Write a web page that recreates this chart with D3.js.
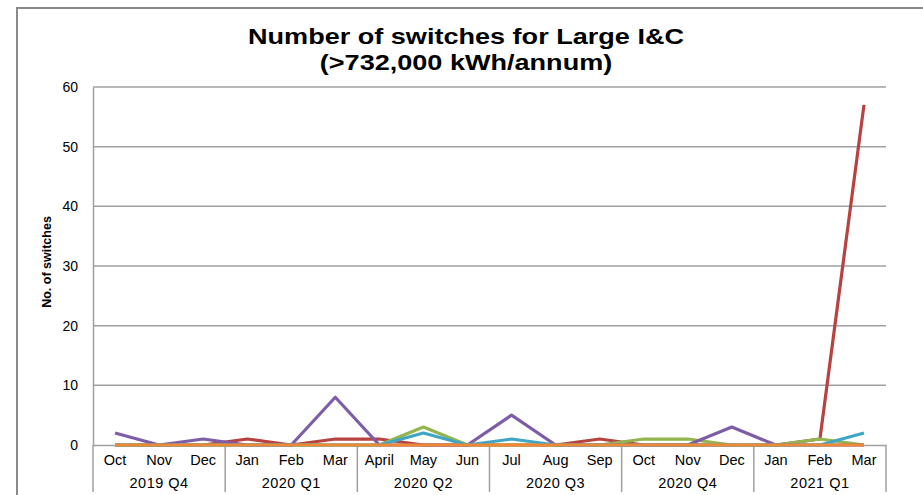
<!DOCTYPE html>
<html>
<head>
<meta charset="utf-8">
<script src="https://cdn.jsdelivr.net/npm/d3@7"></script>
<style>
  body { margin: 0; background: #fff; }
  svg { font-family: "Liberation Sans", Arial, sans-serif; }
</style>
</head>
<body>
<div id="chart"></div>
<script>
var width = 923;
var height = 495;

// data
var months = ["Oct", "Nov", "Dec", "Jan", "Feb", "Mar", "April", "May", "Jun",
    "Jul", "Aug", "Sep", "Oct", "Nov", "Dec", "Jan", "Feb", "Mar"];
var quarters = ["2019 Q4", "2020 Q1", "2020 Q2", "2020 Q3", "2020 Q4", "2021 Q1"];
var yTicks = [0, 10, 20, 30, 40, 50, 60];

var redValues    = [0, 0, 0, 1, 0, 1, 1, 0, 0, 0, 0, 1, 0, 0, 0, 0, 1, 57];
var greenValues  = [0, 0, 0, 0, 0, 0, 0, 3, 0, 0, 0, 0, 1, 1, 0, 0, 1, 0];
var purpleValues = [2, 0, 1, 0, 0, 8, 0, 0, 0, 5, 0, 0, 0, 0, 3, 0, 0, 0];
var tealValues   = [0, 0, 0, 0, 0, 0, 0, 2, 0, 1, 0, 0, 0, 0, 0, 0, 0, 2];
var orangeValues = [0, 0, 0, 0, 0, 0, 0, 0, 0, 0, 0, 0, 0, 0, 0, 0, 0, 0];

var series = [
    { color: "#b8423f", values: redValues },
    { color: "#92b54f", values: greenValues },
    { color: "#7e5da8", values: purpleValues },
    { color: "#3fa6c6", values: tealValues },
    { color: "#ee8936", values: orangeValues }
];

var margin = { left: 93, right: 37, top: 87, bottom: 50 };
var plotW = width - margin.left - margin.right;
var plotH = height - margin.top - margin.bottom;

var svg = d3.select("#chart")
    .append("svg")
    .attr("width", width)
    .attr("height", height);

// outer frame
svg.append("path")
    .attr("d", "M17,495 V8 H930")
    .attr("fill", "none")
    .attr("stroke", "#8a8a8a")
    .attr("stroke-width", 2);

// title (the original is stretched sideways)
var titleLines = ["Number of switches for Large I&C", "(>732,000 kWh/annum)"];
svg.selectAll(".title")
    .data(titleLines)
    .enter()
    .append("text")
    .attr("transform", function (d, i) {
        return "translate(466," + (44 + i * 26) + ") scale(1.23,1)";
    })
    .attr("text-anchor", "middle")
    .style("font-size", "22px").style("font-weight", "bold")
    .text(function (d) { return d; });

var g = svg.append("g")
    .attr("transform", "translate(" + margin.left + "," + margin.top + ")");

var x = d3.scaleBand()
    .domain(d3.range(months.length))
    .range([0, plotW]);

var y = d3.scaleLinear()
    .domain([0, 60])
    .range([plotH, 0]);

// gridlines
g.selectAll(".grid")
    .data(yTicks.filter(function (d) { return d > 0; }))
    .enter()
    .append("line")
    .attr("x1", 0).attr("x2", plotW)
    .attr("y1", function (d) { return y(d); })
    .attr("y2", function (d) { return y(d); })
    .attr("stroke", "#a0a0a0")
    .attr("stroke-width", 1.5);

// y axis
var yAxis = d3.axisLeft(y).tickValues(yTicks).tickSize(0).tickPadding(15);
var yg = g.append("g").call(yAxis);
yg.select(".domain").attr("stroke", "#a0a0a0").attr("stroke-width", 1.5);
yg.selectAll("text").style("font-size", "14px").attr("fill", "#000");

svg.append("text")
    .attr("transform", "translate(51,262) rotate(-90)")
    .attr("text-anchor", "middle")
    .style("font-size", "12.5px").style("font-weight", "bold")
    .text("No. of switches");

// x axis: months
var xAxis = d3.axisBottom(x)
    .tickFormat(function (i) { return months[i]; })
    .tickSize(0).tickPadding(10);
var xg = g.append("g")
    .attr("transform", "translate(0," + plotH + ")")
    .call(xAxis);
xg.select(".domain").attr("stroke", "#a0a0a0").attr("stroke-width", 1.5);
xg.selectAll("text").style("font-size", "14.5px").attr("fill", "#000");

// quarter labels and separators
var qW = x.bandwidth() * 3;
g.selectAll(".qsep")
    .data(d3.range(quarters.length + 1))
    .enter()
    .append("line")
    .attr("x1", function (d) { return x(0) + d * qW; })
    .attr("x2", function (d) { return x(0) + d * qW; })
    .attr("y1", plotH)
    .attr("y2", plotH + 47)
    .attr("stroke", "#a0a0a0")
    .attr("stroke-width", 1.5);

g.selectAll(".qlabel")
    .data(quarters)
    .enter()
    .append("text")
    .attr("x", function (d, i) { return x(0) + i * qW + qW / 2; })
    .attr("y", plotH + 43)
    .attr("text-anchor", "middle")
    .style("font-size", "14.5px")
    .style("letter-spacing", "0.5px")
    .text(function (d) { return d; });

// lines
var line = d3.line()
    .x(function (d, i) { return x(i) + x.bandwidth() / 2; })
    .y(function (d) { return y(d); });

g.selectAll(".series")
    .data(series)
    .enter()
    .append("path")
    .attr("d", function (d) { return line(d.values); })
    .attr("fill", "none")
    .attr("stroke", function (d) { return d.color; })
    .attr("stroke-width", 3.2)
    .attr("stroke-linejoin", "round");
</script>
</body>
</html>
